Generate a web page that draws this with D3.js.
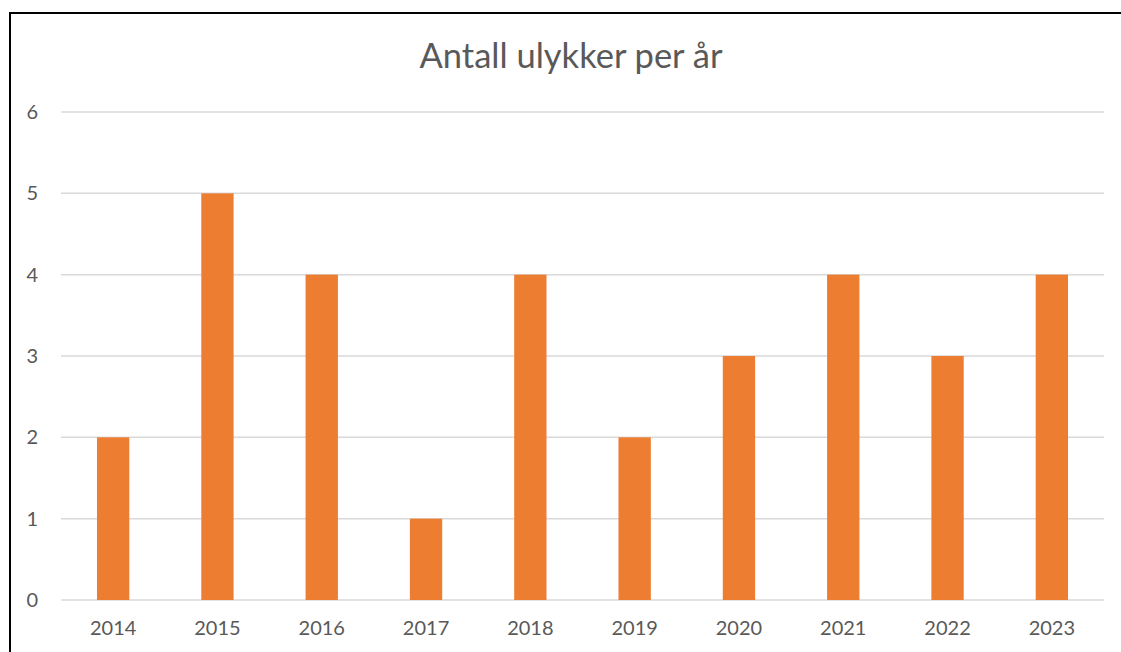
<!DOCTYPE html>
<html lang="no">
<head>
    <meta charset="UTF-8">
    <title>Antall ulykker per år</title>
    <script src="https://d3js.org/d3.v7.min.js"></script>
    <style>
        body {
            margin: 0;
            background: #fff;
            font-family: Lato, "Open Sans", sans-serif;
        }
        .tick-label {
            fill: #595959;
            font-family: Lato, "Open Sans", sans-serif;
            font-size: 20px;
        }
    </style>
</head>
<body>

<div id="chart"></div>

<script>
// Data
const years = ["2014", "2015", "2016", "2017", "2018", "2019", "2020", "2021", "2022", "2023"];
const accidents = [2, 5, 4, 1, 4, 2, 3, 4, 3, 4];
const yTicks = [0, 1, 2, 3, 4, 5, 6];

const W = 1121, H = 652;
const plot = { left: 61, right: 1104, top: 112, bottom: 600 };

const svg = d3.select("#chart")
    .append("svg")
    .attr("width", W)
    .attr("height", H);

// Outer chart border (right and bottom fall outside the picture)
svg.append("rect")
    .attr("x", 10)
    .attr("y", 13)
    .attr("width", W + 20)
    .attr("height", H + 20)
    .attr("fill", "none")
    .attr("stroke", "#000")
    .attr("stroke-width", 2);

const x = d3.scaleBand()
    .domain(years)
    .range([plot.left, plot.right])
    .paddingInner(0.69)
    .paddingOuter(0.345);

const y = d3.scaleLinear()
    .domain([0, 6])
    .range([plot.bottom, plot.top]);

// Gridlines
svg.append("g")
    .selectAll("line")
    .data(yTicks)
    .join("line")
    .attr("x1", plot.left)
    .attr("x2", plot.right)
    .attr("y1", d => y(d))
    .attr("y2", d => y(d))
    .attr("stroke", "#d9d9d9")
    .attr("stroke-width", 1.5);

// Bars
svg.append("g")
    .selectAll("rect")
    .data(accidents)
    .join("rect")
    .attr("x", (d, i) => x(years[i]))
    .attr("y", d => y(d))
    .attr("width", x.bandwidth())
    .attr("height", d => y(0) - y(d))
    .attr("fill", "#ed7d31");

// Y axis labels
const yAxis = svg.append("g")
    .attr("transform", `translate(${plot.left},0)`)
    .call(d3.axisLeft(y).tickValues(yTicks).tickFormat(d3.format("d")).tickSize(0).tickPadding(23));
yAxis.select(".domain").remove();
yAxis.selectAll("text").attr("class", "tick-label");

// X axis labels
const xAxis = svg.append("g")
    .attr("transform", `translate(0,${plot.bottom})`)
    .call(d3.axisBottom(x).tickSize(0).tickPadding(21));
xAxis.select(".domain").remove();
xAxis.selectAll("text").attr("class", "tick-label");

// Title
svg.append("text")
    .attr("x", 571)
    .attr("y", 68)
    .attr("text-anchor", "middle")
    .attr("fill", "#595959")
    .style("font-size", "34.5px")
    .text("Antall ulykker per år");
</script>

</body>
</html>
